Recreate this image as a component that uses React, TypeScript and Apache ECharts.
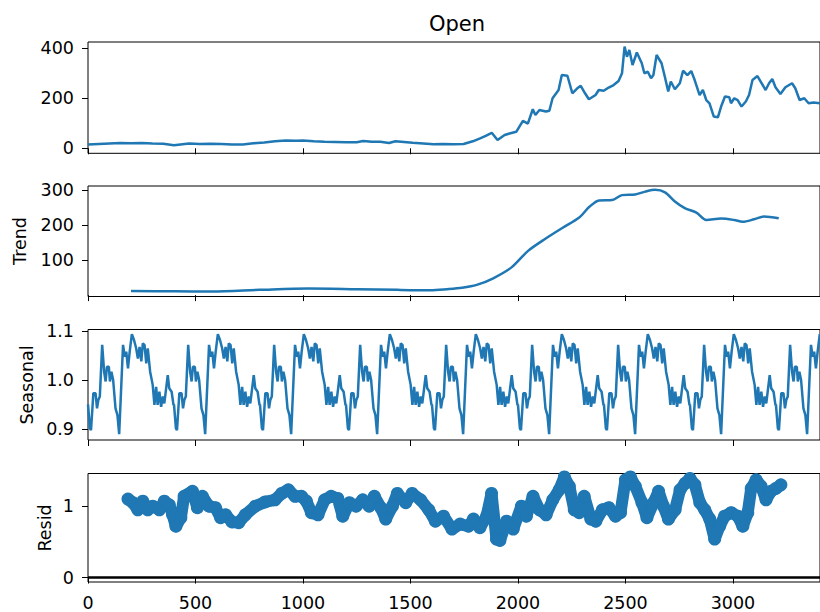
import React, { useEffect, useRef } from "react";
import * as echarts from "echarts";

// Observed "Open" series
const openX = [
  0, 50, 100, 150, 200, 250, 300, 350, 400, 430, 470, 520, 570, 620, 670, 720, 770, 820, 870, 920,
  970, 1000, 1050, 1100, 1150, 1200, 1250, 1280, 1320, 1360, 1400, 1430, 1470, 1510, 1560, 1608, 1650,
  1700, 1747, 1790, 1824, 1850, 1878, 1905, 1938, 1965, 1992, 2023, 2046, 2069, 2081, 2100, 2130, 2146,
  2161, 2189, 2204, 2230, 2253, 2276, 2292, 2312, 2330, 2361, 2376, 2399, 2422, 2445, 2468, 2484, 2496,
  2507, 2518, 2533, 2553, 2576, 2588, 2604, 2619, 2630, 2645, 2668, 2683, 2699, 2711, 2730, 2753, 2768,
  2788, 2806, 2822, 2845, 2860, 2876, 2891, 2911, 2930, 2945, 2963, 2983, 2991, 3006, 3022, 3040, 3060,
  3075, 3091, 3114, 3129, 3152, 3168, 3183, 3198, 3221, 3244, 3275, 3290, 3310, 3332, 3352, 3375, 3405,
];
const openY = [
  15, 17, 19, 21, 20, 21, 19, 18, 12, 15, 19, 17, 18, 17, 15, 15, 20, 23, 28, 31,
  30, 31, 28, 26, 25, 24, 24, 29, 26, 26, 21, 28, 25, 22, 19, 16, 17,
  16, 17, 28, 40, 50, 62, 33, 53, 60, 66, 110, 99, 156, 133, 153, 147, 150,
  200, 233, 293, 290, 220, 240, 250, 220, 196, 213, 233, 230, 243, 253, 269, 300, 407,
  366, 393, 333, 383, 340, 300, 306, 280, 293, 373, 340, 287, 227, 267, 236, 260, 310,
  293, 309, 273, 213, 233, 193, 180, 127, 124, 167, 207, 204, 180, 200, 193, 167, 187,
  213, 273, 289, 267, 233, 260, 277, 244, 217, 244, 260, 240, 193, 200, 180, 183, 180,
];

// Trend component
const trendX = [
  200, 400, 577, 800, 1024, 1250, 1439, 1593, 1670, 1740, 1808, 1885, 1970, 2047, 2131, 2208, 2285,
  2331, 2377, 2438, 2484, 2545, 2592, 2638, 2684, 2730, 2776, 2830, 2876, 2945, 3006, 3045, 3098, 3144, 3213,
];
const trendY = [
  11.5, 11, 10, 15, 19, 17, 15, 14, 17, 21, 29, 48, 79, 126, 162, 192, 221,
  251, 270, 271, 285, 287, 295, 300, 293, 267, 248, 235, 214, 218, 214, 209, 216, 224, 219,
];

// Seasonal component: one full cycle (offset within the period, factor)
const seasonalPeriod = 400;
const seasonalOffset = [
  0, 9, 14, 25, 35, 42, 48, 55, 66, 75, 82, 88, 97, 102, 109, 117, 128, 137, 145, 163, 171, 178, 186,
  194, 204, 214, 224, 232, 240, 248, 255, 263, 271, 278, 289, 301, 309, 317, 324, 332, 340, 348, 355,
  371, 378, 389, 398,
];
const seasonalValue = [
  0.95, 0.901, 0.897, 0.973, 0.973, 0.942, 0.959, 0.966, 1.072, 1.017, 0.997, 1.027, 1.027, 0.997,
  1.017, 1.0, 0.942, 0.928, 0.889, 1.072, 1.048, 1.058, 1.024, 1.058, 1.094, 1.082, 1.065, 1.044,
  1.068, 1.038, 1.075, 1.072, 1.034, 1.065, 1.017, 0.99, 0.949, 0.986, 0.949, 0.976, 0.945, 0.966,
  0.952, 1.01, 0.983, 0.976, 0.948,
];

// Residual component
const residX = [
  186, 209, 232, 255, 278, 301, 332, 355, 378, 393, 409, 432, 447, 486, 509, 532, 563, 593, 617, 640,
  670, 701, 732, 778, 824, 870, 901, 932, 963, 993, 1016, 1039, 1070, 1101, 1131, 1162, 1185, 1216,
  1247, 1278, 1308, 1332, 1362, 1385, 1416, 1439, 1478, 1508, 1547, 1585, 1616, 1654, 1693, 1731,
  1770, 1793, 1823, 1854, 1877, 1900, 1916, 1947, 1978, 2016, 2039, 2070, 2100, 2131, 2162, 2192,
  2216, 2239, 2262, 2285, 2308, 2339, 2362, 2393, 2423, 2454, 2477, 2500, 2523, 2546, 2577, 2600,
  2631, 2654, 2677, 2700, 2731, 2754, 2777, 2800, 2823, 2846, 2869, 2892, 2915, 2938, 2961, 2992,
  3023, 3046, 3069, 3085, 3108, 3131, 3154, 3177, 3200, 3223,
];
const residY = [
  1.1, 1.05, 0.95, 1.07, 0.95, 1.0, 0.95, 1.07, 1.02, 0.885, 0.72, 0.84, 1.14, 1.21, 0.98, 1.14, 1.0,
  0.98, 0.84, 0.88, 0.78, 0.77, 0.88, 1.0, 1.06, 1.09, 1.18, 1.23, 1.14, 1.14, 1.07, 0.91, 0.88, 1.09,
  1.14, 1.11, 0.86, 1.05, 1.0, 1.09, 1.0, 1.14, 0.98, 0.82, 1.0, 1.18, 1.05, 1.18, 1.09, 0.95, 0.79,
  0.86, 0.68, 0.75, 0.72, 0.82, 0.7, 0.86, 1.18, 0.54, 0.52, 0.79, 0.68, 1.0, 0.86, 1.14, 0.95, 0.88,
  1.09, 1.23, 1.41, 1.28, 0.95, 0.91, 1.14, 0.82, 0.79, 0.95, 0.98, 0.86, 0.91, 1.37, 1.41, 1.28, 1.05,
  0.84, 1.05, 1.21, 1.0, 0.82, 0.95, 1.23, 1.32, 1.39, 1.3, 1.05, 0.95, 0.82, 0.54, 0.72, 0.86, 0.91,
  0.86, 0.72, 0.91, 1.25, 1.37, 1.28, 1.09, 1.21, 1.25, 1.3,
];

// Tick labels
const xTicks = [0, 500, 1000, 1500, 2000, 2500, 3000];
const openTicks = [0, 200, 400];
const trendTicks = [100, 200, 300];
const seasonalTicks = [0.9, 1.0, 1.1];
const residTicks = [0, 1];

const X_MAX = 3405;
const BLUE = "#1f77b4";
const FONT = "DejaVu Sans";

const zip = (xs: number[], ys: number[]) => xs.map((x, i) => [x, ys[i]]);

function buildSeasonal(): number[][] {
  const out: number[][] = [];
  for (let k = 0; k * seasonalPeriod <= X_MAX; k++) {
    seasonalOffset.forEach((off, i) => {
      const x = k * seasonalPeriod + off;
      if (x <= X_MAX) out.push([x, seasonalValue[i]]);
    });
  }
  return out;
}

export default function App() {
  const ref = useRef<HTMLDivElement>(null);

  useEffect(() => {
    if (!ref.current) return;
    const chart = echarts.init(ref.current, null, { renderer: "svg" });

    const grids = [
      { top: 42, height: 111.3 },
      { top: 186, height: 110.5 },
      { top: 329.5, height: 110.5 },
      { top: 473.5, height: 110 },
    ];
    const yRanges = [
      { min: -20, max: 425, ticks: openTicks },
      { min: -4, max: 311, ticks: trendTicks },
      { min: 0.877, max: 1.1035, ticks: seasonalTicks },
      { min: -0.062, max: 1.459, ticks: residTicks },
    ];

    const labelStyle = { color: "#000", fontFamily: FONT, fontSize: 17.5 };

    const option: any = {
      animation: false,
      backgroundColor: "#fff",
      grid: grids.map((g) => ({
        left: 88,
        width: 738,
        top: g.top,
        height: g.height,
        show: true,
        borderColor: "#000",
        borderWidth: 1,
        backgroundColor: "transparent",
      })),
      xAxis: grids.map((_, i) => ({
        type: "value",
        gridIndex: i,
        min: 0,
        max: X_MAX,
        axisLine: { show: false },
        splitLine: { show: false },
        axisTick: { show: true, length: 6, lineStyle: { color: "#000", width: 1 }, customValues: xTicks },
        axisLabel: {
          show: i === 3,
          customValues: xTicks,
          margin: 12,
          ...labelStyle,
          formatter: (v: number) => String(v),
        },
      })),
      yAxis: yRanges.map((r, i) => ({
        type: "value",
        gridIndex: i,
        min: r.min,
        max: r.max,
        axisLine: { show: false },
        splitLine: { show: false },
        axisTick: { show: true, length: 6, lineStyle: { color: "#000", width: 1 }, customValues: r.ticks },
        axisLabel: {
          customValues: r.ticks,
          margin: 14,
          ...labelStyle,
          formatter: i === 2 ? (v: number) => v.toFixed(1) : (v: number) => String(v),
        },
      })),
      graphic: [
        {
          type: "text",
          x: 457,
          y: 24,
          style: { text: "Open", font: `21px "${FONT}"`, fill: "#000", textAlign: "center", textVerticalAlign: "middle" },
        },
        {
          type: "text",
          x: 19.5,
          y: 241,
          rotation: Math.PI / 2,
          style: { text: "Trend", font: `17.5px "${FONT}"`, fill: "#000", textAlign: "center", textVerticalAlign: "middle" },
        },
        {
          type: "text",
          x: 27,
          y: 385,
          rotation: Math.PI / 2,
          style: { text: "Seasonal", font: `17.5px "${FONT}"`, fill: "#000", textAlign: "center", textVerticalAlign: "middle" },
        },
        {
          type: "text",
          x: 44.5,
          y: 528,
          rotation: Math.PI / 2,
          style: { text: "Resid", font: `17.5px "${FONT}"`, fill: "#000", textAlign: "center", textVerticalAlign: "middle" },
        },
      ],
      series: [
        {
          name: "Open",
          type: "line",
          xAxisIndex: 0,
          yAxisIndex: 0,
          data: zip(openX, openY),
          showSymbol: false,
          lineStyle: { color: BLUE, width: 2.5 },
        },
        {
          name: "Trend",
          type: "line",
          xAxisIndex: 1,
          yAxisIndex: 1,
          data: zip(trendX, trendY),
          showSymbol: false,
          smooth: 0.3,
          lineStyle: { color: BLUE, width: 2.5 },
        },
        {
          name: "Seasonal",
          type: "line",
          xAxisIndex: 2,
          yAxisIndex: 2,
          data: buildSeasonal(),
          showSymbol: false,
          lineStyle: { color: BLUE, width: 2.5 },
        },
        {
          name: "Resid",
          type: "line",
          xAxisIndex: 3,
          yAxisIndex: 3,
          data: zip(residX, residY),
          symbol: "circle",
          symbolSize: 13,
          showSymbol: true,
          itemStyle: { color: BLUE },
          lineStyle: { color: BLUE, width: 12, cap: "round", join: "round" },
          markLine: {
            silent: true,
            symbol: "none",
            label: { show: false },
            lineStyle: { color: "#000", width: 2.5, type: "solid" },
            data: [{ yAxis: 0 }],
          },
        },
      ],
    };

    chart.setOption(option);
    return () => chart.dispose();
  }, []);

  return (
    <div
      ref={ref}
      style={{ position: "fixed", left: 0, top: 0, width: 820, height: 612, background: "#fff" }}
    />
  );
}
